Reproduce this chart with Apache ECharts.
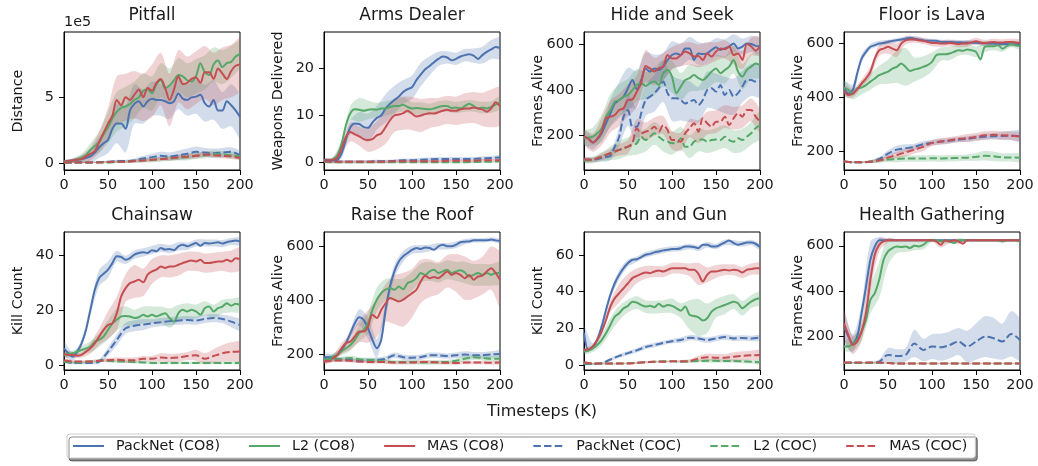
<!DOCTYPE html>
<html>
<head>
<meta charset="utf-8">
<script src="https://cdn.jsdelivr.net/npm/echarts@6/dist/echarts.min.js"></script>
<style>
  html, body { margin: 0; padding: 0; background: #fff; }
  #chart { width: 1038px; height: 466px; }
</style>
</head>
<body>
<div id="chart"></div>
<script>
// Timesteps (K): solid curves are sampled every 5K, dashed curves and all spreads every 10K
const X5 = [0,5,10,15,20,25,30,35,40,45,50,55,60,65,70,75,80,85,90,95,100,105,110,115,120,125,130,135,140,145,150,155,160,165,170,175,180,185,190,195,200];
const X10 = [0,10,20,30,40,50,60,70,80,90,100,110,120,130,140,150,160,170,180,190,200];

const METHODS = ['PackNet (CO8)', 'L2 (CO8)', 'MAS (CO8)', 'PackNet (COC)', 'L2 (COC)', 'MAS (COC)'];
const TITLES = ['Pitfall', 'Arms Dealer', 'Hide and Seek', 'Floor is Lava', 'Chainsaw', 'Raise the Roof', 'Run and Gun', 'Health Gathering'];
const YLABELS = ['Distance', 'Weapons Delivered', 'Frames Alive', 'Frames Alive', 'Kill Count', 'Frames Alive', 'Kill Count', 'Frames Alive'];
const YTICKS = [[0, 5], [0, 10, 20], [200, 400, 600], [200, 400, 600], [0, 20, 40], [200, 400, 600], [0, 20, 40, 60], [200, 400, 600]];

// Mean curves, order follows METHODS. Pitfall distance is in units of 1e5.
const pitfallMean = [
  [0.1,0.15,0.2,0.25,0.3,0.4,0.5,0.8,1.2,1.5,1.75,2.6,3.0,3.0,2.6,4.0,4.5,4.7,4.3,4.7,4.9,4.8,4.8,4.7,4.55,4.7,5.3,4.9,4.8,5.0,5.05,5.2,4.55,4.3,4.8,4.0,4.0,4.7,4.4,4.0,3.5],
  [0.1,0.15,0.2,0.3,0.4,0.6,1.0,1.3,1.6,2.2,2.7,3.4,3.9,4.2,4.3,4.5,4.8,5.0,5.5,5.6,5.3,6.0,6.3,5.7,5.9,6.3,6.7,6.6,6.3,6.2,6.6,7.6,6.9,6.7,7.5,7.8,7.3,7.6,7.7,8.1,8.3],
  [0.1,0.15,0.2,0.25,0.3,0.5,0.7,0.9,1.6,2.3,3.0,3.6,4.8,4.4,5.0,4.8,5.2,5.6,5.0,5.7,5.5,6.1,6.4,5.7,4.8,5.6,6.6,6.0,6.1,6.4,6.5,6.1,6.9,6.9,6.4,7.2,6.8,6.4,7.0,7.4,7.5],
  [0.05,0.05,0.05,0.05,0.08,0.1,0.15,0.15,0.2,0.35,0.45,0.55,0.5,0.6,0.7,0.85,0.8,0.75,0.8,0.85,0.6],
  [0.05,0.05,0.05,0.05,0.05,0.05,0.08,0.1,0.15,0.2,0.25,0.3,0.35,0.4,0.45,0.55,0.6,0.7,0.65,0.6,0.5],
  [0.05,0.05,0.05,0.05,0.05,0.08,0.1,0.1,0.15,0.2,0.25,0.3,0.35,0.45,0.5,0.55,0.65,0.6,0.55,0.5,0.4]
];
const pitfallSpread = [
  [0.1,0.15,0.3,0.5,0.8,1.0,1.5,1.8,1.5,1.3,1.3,1.2,1.2,1.2,1.2,1.3,1.4,1.5,1.4,1.6,1.6],
  [0.1,0.15,0.3,0.5,0.8,1.2,1.5,1.5,1.4,1.3,1.3,1.3,1.3,1.3,1.3,1.3,1.3,1.3,1.3,1.2,1.0],
  [0.1,0.15,0.3,0.5,0.8,1.2,1.8,1.8,1.8,1.8,2.0,2.0,2.0,2.0,2.0,2.0,2.0,2.0,2.0,2.0,2.0],
  [0.05,0.05,0.05,0.05,0.05,0.08,0.1,0.1,0.15,0.2,0.25,0.3,0.3,0.35,0.4,0.4,0.35,0.35,0.35,0.35,0.3],
  [0.05,0.05,0.05,0.05,0.05,0.08,0.1,0.1,0.12,0.15,0.2,0.2,0.2,0.2,0.25,0.25,0.25,0.25,0.25,0.25,0.2],
  [0.05,0.05,0.05,0.05,0.05,0.08,0.1,0.1,0.12,0.15,0.15,0.15,0.15,0.2,0.2,0.2,0.2,0.2,0.2,0.2,0.15]
];

const armsMean = [
  [0.5,0.5,0.5,0.6,2.0,5.0,7.5,8.3,8.2,7.6,7.4,8.5,9.5,10.0,11.5,12.5,13.3,14.0,15.0,15.6,16.0,17.5,18.7,19.8,20.5,21.3,22.0,22.5,22.3,21.7,22.0,22.5,22.8,23.0,22.7,22.0,22.8,23.5,24.0,24.5,24.3],
  [0.5,0.5,0.7,1.5,4.0,8.0,10.5,11.3,11.2,11.0,11.2,11.3,11.2,11.5,11.5,11.8,12.0,12.0,12.3,11.8,11.5,11.6,11.5,11.4,11.3,11.5,11.8,12.0,12.0,11.6,11.7,11.5,12.0,12.5,12.0,11.5,11.7,11.5,11.8,12.3,12.7],
  [0.5,0.5,0.6,1.0,3.0,5.5,6.5,6.0,5.6,5.0,4.8,5.0,5.8,6.2,7.5,9.0,10.0,10.2,10.5,11.0,10.4,9.8,10.0,10.3,10.5,10.4,10.7,11.0,11.2,11.0,11.0,11.3,11.5,11.5,11.7,11.5,11.3,10.8,11.5,12.8,12.0],
  [0.4,0.3,0.2,0.2,0.2,0.2,0.3,0.3,0.4,0.5,0.5,0.6,0.7,0.8,0.8,0.8,0.8,0.8,0.9,1.0,1.1],
  [0.2,0.1,0.1,0.1,0.1,0.1,0.1,0.1,0.1,0.1,0.1,0.1,0.1,0.1,0.1,0.1,0.1,0.15,0.2,0.2,0.3],
  [0.3,0.2,0.2,0.2,0.2,0.2,0.2,0.2,0.3,0.3,0.3,0.3,0.3,0.3,0.4,0.4,0.4,0.4,0.5,0.5,0.5]
];
const armsSpread = [
  [0.5,0.5,1.0,1.5,2.5,3.0,2.5,3.0,3.0,2.5,2.5,2.5,2.0,1.5,1.3,1.3,1.3,1.5,1.8,2.0,2.2],
  [0.3,0.5,1.0,1.5,2.5,2.0,1.5,1.5,1.5,1.5,1.3,1.3,1.2,1.2,1.2,1.2,1.2,1.2,1.2,1.2,1.3],
  [0.3,0.5,1.0,2.0,2.0,2.5,3.0,3.5,3.5,3.5,3.5,3.5,3.2,3.0,3.0,3.0,3.2,3.3,3.5,4.0,4.0],
  [0.4,0.3,0.3,0.3,0.3,0.3,0.3,0.3,0.3,0.4,0.4,0.4,0.4,0.4,0.4,0.4,0.4,0.4,0.4,0.4,0.5],
  [0.2,0.2,0.2,0.2,0.2,0.2,0.2,0.2,0.2,0.2,0.2,0.2,0.2,0.2,0.2,0.2,0.2,0.2,0.2,0.2,0.2],
  [0.3,0.3,0.3,0.3,0.3,0.3,0.3,0.3,0.3,0.3,0.3,0.3,0.3,0.3,0.3,0.3,0.3,0.3,0.3,0.3,0.3]
];

const hideMean = [
  [194,185,168,182,209,253,297,340,355,370,407,443,402,443,494,480,494,487,502,531,553,560,553,582,582,531,560,557,560,575,587,575,582,590,604,582,590,604,601,593,590],
  [187,190,194,209,230,282,311,348,355,370,377,399,421,429,417,429,436,421,473,487,458,385,414,443,451,465,451,443,458,480,494,473,487,502,531,480,458,487,502,516,509],
  [194,185,168,185,216,275,282,289,311,319,355,358,392,429,505,494,480,494,502,553,538,538,553,568,560,546,549,531,560,546,568,582,578,590,553,560,531,601,590,572,590],
  [92,92,92,96,100,105,110,150,194,282,311,238,238,297,355,370,385,407,436,385,363,363,355,340,348,355,333,355,399,407,392,421,377,399,370,385,414,443,443,436,436],
  [89,90,92,99,106,114,121,128,136,143,150,157,165,194,179,194,209,194,179,172,165,165,187,150,150,172,179,182,172,179,182,179,194,179,172,187,179,194,209,231,245],
  [94,93,92,99,106,114,121,128,136,143,150,165,231,209,216,223,238,216,245,223,179,179,172,209,231,253,216,275,253,238,260,260,282,245,275,297,282,311,311,282,260]
];
const hideSpread = [
  [30,30,30,60,80,90,80,70,60,60,60,50,50,50,45,40,40,40,35,35,35],
  [30,40,60,70,70,70,70,60,60,60,70,60,60,55,55,60,60,60,55,55,55],
  [30,40,60,70,70,70,70,70,60,60,50,50,50,50,50,40,40,40,40,40,40],
  [10,10,15,20,40,70,80,70,80,90,100,90,90,80,80,80,80,80,70,70,70],
  [10,15,20,30,40,40,50,50,50,50,50,50,50,50,50,50,50,50,50,50,60],
  [10,10,15,20,25,30,40,40,40,40,40,40,40,50,50,50,50,50,50,50,50]
];

const lavaMean = [
  [436,414,427,489,544,569,588,594,600,602,606,610,612,615,618,622,618,615,612,610,610,610,606,606,606,605,605,604,604,603,603,602,601,600,600,599,598,598,597,597,597],
  [436,427,412,433,436,445,458,470,482,489,495,507,513,526,513,498,503,507,513,520,532,557,560,560,563,569,575,573,578,575,569,541,588,590,590,594,581,590,598,594,590],
  [424,408,414,429,451,470,495,544,575,581,588,581,575,600,612,615,615,612,610,606,602,602,600,600,602,600,598,600,600,604,609,604,602,604,606,604,604,606,606,604,602],
  [160,158,158,160,170,190,205,210,215,225,230,235,238,242,245,250,253,255,256,257,255],
  [160,158,158,160,165,168,170,172,172,172,173,172,173,174,175,178,182,180,176,176,175],
  [162,158,158,160,165,175,185,195,205,215,230,235,240,245,248,252,258,260,258,257,253]
];
const lavaSpread = [
  [25,20,15,10,10,8,8,8,8,8,8,8,8,8,8,8,8,8,8,8,8],
  [25,20,25,30,35,45,60,70,45,40,35,25,25,20,20,20,20,15,12,12,12],
  [20,15,15,20,20,25,25,15,12,12,12,12,12,12,12,12,12,12,12,12,12],
  [3,3,3,5,8,12,15,15,12,12,10,10,10,10,10,10,12,12,15,18,20],
  [3,3,3,5,8,10,12,12,12,12,12,12,12,12,12,15,18,18,15,15,15],
  [3,3,3,5,8,10,12,15,15,15,12,12,12,12,15,15,15,15,15,15,15]
];

const chainsawMean = [
  [6.3,4.5,3.3,5.1,8.1,13,20.3,27.6,31.9,33.4,34.9,37.3,39.8,39.5,38.5,39.1,40.4,41,41.2,41,42,41.6,42.8,42.2,42.4,42,43.4,44,43.4,44,44.6,43.6,44.6,44.4,44.6,44.9,44.4,44.9,45.2,45.5,45.2],
  [3.9,4.3,4.5,5.1,5.7,6.3,6.9,8.8,9.4,10.6,13,15.4,16.7,17.9,18.1,17.9,17.3,17.6,18.5,17.9,18.5,17.9,18.5,19.1,17.3,16,19.1,20.3,19.7,20.3,19.7,18.5,20.9,21.5,19.7,20.9,21.5,22.7,21.8,22.5,22.1],
  [4.3,3.9,3.9,3.6,3.9,5.1,6.3,8.1,10.6,13,14.8,15.4,19.1,25.2,28.2,30,30.6,31.2,30.3,33.1,34.3,34.9,36.1,35.5,36.1,36.1,36.7,37.3,37.9,38.2,37.9,38.5,37.3,37.3,37.6,37.9,37.9,38.5,37.9,39.1,38.8],
  [1.5,1.0,1.0,1.0,1.5,5.1,9.4,13.6,14.5,15,15.4,15.8,16.2,16.4,16.6,16.4,17,17.3,17,16,14.8],
  [1.5,1.2,1.2,1.5,1.8,1.8,1.5,1.5,1.3,1.2,1.0,1.0,1.0,1.0,1.0,1.0,1.0,1.0,1.0,1.0,1.0],
  [2.0,1.5,1.5,1.5,1.8,2.0,2.2,2.0,2.0,2.5,2.5,3.0,2.8,3.0,3.5,3.8,2.5,3.5,4.5,5.0,5.2]
];
const chainsawSpread = [
  [2.5,1.5,1.5,2,3,3,2,1.5,1.5,1.5,1.5,1.5,1.5,1.5,1.3,1.3,1.3,1.3,1.3,1.3,1.3],
  [1,1,1.5,2,2.5,3.5,4,3.5,3,3,3,3,3.5,3,3,2.5,2.5,2.5,2.5,2.5,2.5],
  [1,1,1,2,3,5,6,5,6,5,4.5,4,4,4,3.5,3.5,3.5,3.5,3.5,4,4],
  [0.5,0.5,0.5,0.5,0.8,1.5,2,2,2,2,1.5,1.5,1.5,1.5,1.5,1.5,1.5,1.5,1.5,2,2],
  [0.5,0.5,0.5,0.5,0.5,0.5,0.5,0.5,0.5,0.5,0.5,0.5,0.5,0.5,0.5,0.5,0.5,0.5,0.5,0.5,0.5],
  [0.5,0.5,0.5,0.5,0.5,0.8,0.8,1,1,1,1,1.5,1.5,1.5,1.5,2,2,2.5,3,3.5,3.5]
];

const roofMean = [
  [188,188,190,196,215,240,277,314,336,326,295,252,221,252,363,450,506,543,562,574,586,593,589,595,593,586,599,605,599,599,605,614,616,617,621,621,621,621,624,621,619],
  [178,182,190,196,209,221,233,252,277,289,314,363,401,425,438,444,438,450,440,463,469,481,500,493,506,512,500,506,512,500,506,510,502,487,493,500,493,500,493,500,500],
  [172,178,184,196,221,240,246,264,283,283,302,345,333,363,388,407,401,394,401,413,425,438,469,490,481,485,481,493,506,493,500,493,481,493,475,487,490,506,518,500,475],
  [185,182,180,178,175,178,178,182,195,188,186,188,195,195,192,195,198,195,195,198,200],
  [180,180,182,185,180,178,176,172,170,170,170,168,168,170,170,175,182,188,185,182,182],
  [172,175,176,175,172,170,170,170,168,168,168,170,170,168,167,166,168,168,168,167,168]
];
const roofSpread = [
  [12,10,10,15,30,40,35,30,25,20,15,15,12,12,12,12,10,8,8,8,8],
  [10,10,15,20,30,40,45,40,40,40,35,35,35,35,35,35,40,40,40,40,40],
  [10,12,20,30,40,60,70,70,90,100,90,80,70,60,60,70,80,70,70,80,100],
  [8,8,8,8,8,8,8,10,10,10,10,10,10,10,10,10,12,12,12,12,12],
  [8,8,8,8,8,8,8,8,8,8,8,8,8,8,8,8,10,10,10,10,10],
  [6,6,6,6,6,6,6,6,6,6,6,6,6,6,6,6,6,6,6,6,6]
];

const runGunMean = [
  [17.3,8.2,10,13.6,20.9,30,38.2,44.5,49.1,52.7,55.5,57.3,57.6,58.7,60,60.5,61.3,61.8,62.4,62.7,63.1,63.1,63.6,64.5,64.5,64.2,63.6,65.5,65.5,64.5,64.5,65.5,66.7,67.8,66.4,65.5,66,66.7,66.7,66,64.2],
  [7.3,7.8,9.1,10.9,13.6,17.3,21.8,26.4,28.2,30.9,32.2,34.5,34,32.7,31.8,32.2,31.5,33.3,31.8,32.7,32.2,30.9,29.6,31.8,27.3,26.7,26,24.2,25.5,29.1,30.9,31.8,32.7,33.6,34.5,33.6,30.9,32.7,34.5,35.8,36.4],
  [8.2,8.5,10,13.6,18.2,24.5,31.8,36.4,39.1,41.8,44.5,47.3,48.5,49.6,50.4,50,50.9,51.5,50.9,51.8,52.7,52.7,52.7,52.7,51.8,51.8,49.6,45.5,49.1,50.9,50.9,51.5,51.8,51.5,51.8,51.5,50.4,51.8,52.2,52.7,52.7],
  [0.5,0.5,1,3,5,6.5,8,9.8,10.9,12,13,13.6,14.9,14.5,13.6,14.5,15.2,14.5,14.7,14.5,14.9],
  [1.0,0.8,0.8,0.8,0.8,1.0,1.2,1.5,1.8,2.0,2.0,1.8,2.0,2.2,2.3,2.3,2.2,2.2,2.0,1.8,1.5],
  [1.5,0.8,0.8,0.8,0.8,0.8,1.2,1.5,1.8,1.8,2.0,2.0,2.2,3.5,4.3,4.0,4.0,4.5,5.0,5.3,5.5]
];
const runGunSpread = [
  [4,2,2,2,2.5,2,1.5,1.5,1.5,1.5,1.5,1.5,1.5,1.5,1.5,1.5,1.5,1.5,1.5,1.5,1.5],
  [1.5,2,3,4,4,3.5,3.5,3.5,3.5,3.5,4,4,8,10,8,5,5,4,4,3.5,3.5],
  [1,1,2,3,5,5,4,3.5,3,3,3,3,3.5,6,4,3.5,3,3,3,3,3],
  [0.5,0.5,0.5,0.8,1,1.2,1.2,1.2,1.2,1.2,1.2,1.5,1.5,1.5,1.5,1.5,1.5,1.5,1.5,1.5,1.5],
  [0.5,0.5,0.5,0.5,0.5,0.5,0.5,0.5,0.5,0.5,0.5,0.5,0.5,0.8,1,1,1,1,1,1,1],
  [0.5,0.5,0.5,0.5,0.5,0.5,0.5,0.5,0.5,0.5,0.5,0.8,1,1.5,2,2,2,2.5,2.5,2.5,2.5]
];

const healthMean = [
  [241,197,167,197,301,419,538,597,624,624,624,624,624,624,624,624,624,624,624,624,624,624,624,624,624,624,622,624,624,624,624,624,624,624,624,624,624,624,624,624,624],
  [153,153,164,182,219,271,360,390,449,538,575,590,597,594,597,590,600,597,604,619,624,624,619,624,619,612,624,624,624,624,624,624,624,624,624,624,619,624,624,624,619],
  [256,204,160,175,219,301,449,560,604,619,624,624,624,624,624,624,624,624,624,624,624,619,604,624,619,624,619,609,624,624,624,624,624,624,624,624,624,624,624,624,624],
  [81,81,81,81,86,116,111,116,167,138,153,150,160,175,153,175,197,190,175,209,182],
  [80,80,80,80,80,80,78,78,78,78,78,78,78,78,78,78,78,78,78,78,78],
  [82,82,82,82,82,80,78,78,78,78,78,78,78,78,78,78,78,78,78,78,78]
];
const healthSpread = [
  [60,40,40,80,15,5,5,5,5,5,5,5,5,5,5,5,5,5,5,5,5],
  [20,30,40,60,80,60,30,25,20,20,8,8,8,8,5,5,5,5,5,5,5],
  [60,40,40,50,30,10,5,5,5,5,5,12,8,12,5,5,5,5,5,5,5],
  [3,3,3,5,10,30,30,30,60,50,55,60,60,60,70,80,90,90,80,100,90],
  [3,3,3,3,3,3,3,3,3,3,3,3,3,3,3,3,3,3,3,3,3],
  [3,3,3,3,3,3,3,3,3,3,3,3,3,3,3,3,3,3,3,3,3]
];

const PANEL_MEANS = [pitfallMean, armsMean, hideMean, lavaMean, chainsawMean, roofMean, runGunMean, healthMean];
const PANEL_SPREADS = [pitfallSpread, armsSpread, hideSpread, lavaSpread, chainsawSpread, roofSpread, runGunSpread, healthSpread];

// ---- styling / layout ----
const FONT = 'DejaVu Sans';
const TEXT = '#1a1a1a';
const TICK_SIZE = 14.4;
const LINE_COLORS = ['#4C72B0', '#55A868', '#C44E52', '#4C72B0', '#55A868', '#C44E52'];
const BAND_COLORS = ['rgba(76,114,176,0.25)', 'rgba(85,168,104,0.25)', 'rgba(196,78,82,0.25)',
                     'rgba(76,114,176,0.25)', 'rgba(85,168,104,0.25)', 'rgba(196,78,82,0.25)'];
const DASH = [7.5, 3.2];
const COL_LEFT = [64, 324, 584, 844];
const ROW_TOP = [32, 232];
const PLOT_W = 176, PLOT_H = 138;
const Y_RANGE = [[-0.53, 9.97], [-1.55, 27.7], [47.5, 654], [129, 643], [-1.57, 48.6], [140.5, 652], [-2.7, 72.4], [49, 661]];

const chart = echarts.init(document.getElementById('chart'), null, { renderer: 'canvas' });

const grids = [], xAxes = [], yAxes = [], series = [], graphics = [];

function bandRenderer(lo, hi, fill) {
  return function (params, api) {
    if (params.dataIndexInside !== 0) return null;
    const upper = [], lower = [];
    for (let k = 0; k < X10.length; k++) {
      upper.push(api.coord([X10[k], hi[k]]));
      lower.push(api.coord([X10[k], lo[k]]));
    }
    const cs = params.coordSys;
    return {
      type: 'polygon',
      shape: { points: upper.concat(lower.reverse()), smooth: 0.3 },
      style: { fill: fill },
      clipPath: { type: 'rect', shape: { x: cs.x, y: cs.y, width: cs.width, height: cs.height } }
    };
  };
}

for (let p = 0; p < 8; p++) {
  const row = Math.floor(p / 4), col = p % 4;
  const left = COL_LEFT[col], top = ROW_TOP[row];
  grids.push({
    left: left, top: top, width: PLOT_W, height: PLOT_H,
    show: true, borderColor: '#000', borderWidth: 1, backgroundColor: 'transparent',
    containLabel: false, outerBoundsMode: 'none'
  });
  xAxes.push({
    gridIndex: p, type: 'value', min: 0, max: 200, interval: 50,
    axisLine: { show: true, onZero: false, lineStyle: { color: '#000', width: 1 } },
    axisTick: { show: true, length: 5, lineStyle: { color: '#000', width: 1 } },
    axisLabel: { show: true, fontSize: TICK_SIZE, fontFamily: FONT, color: TEXT, margin: 8, showMinLabel: true, showMaxLabel: true },
    splitLine: { show: false }
  });
  yAxes.push({
    gridIndex: p, type: 'value', min: Y_RANGE[p][0], max: Y_RANGE[p][1],
    axisLine: { show: true, onZero: false, lineStyle: { color: '#000', width: 1 } },
    axisTick: { show: true, length: 5, customValues: YTICKS[p], lineStyle: { color: '#000', width: 1 } },
    axisLabel: { show: true, fontSize: TICK_SIZE, fontFamily: FONT, color: TEXT, margin: 10, customValues: YTICKS[p] },
    splitLine: { show: false }
  });

  const means = PANEL_MEANS[p], spreads = PANEL_SPREADS[p];
  for (let s = 0; s < 6; s++) {
    const m = means[s], sp = spreads[s];
    const step = m.length === X5.length ? 2 : 1;
    const lo = X10.map((x, k) => m[k * step] - sp[k]);
    const hi = X10.map((x, k) => m[k * step] + sp[k]);
    series.push({
      type: 'custom', xAxisIndex: p, yAxisIndex: p, silent: true, z: 2,
      data: X10.map((x, k) => [x, lo[k], hi[k]]),
      encode: { x: 0, y: [1, 2] },
      renderItem: bandRenderer(lo, hi, BAND_COLORS[s])
    });
  }
  for (let s = 0; s < 6; s++) {
    const m = means[s];
    const xs = m.length === X5.length ? X5 : X10;
    series.push({
      type: 'line', name: METHODS[s], xAxisIndex: p, yAxisIndex: p,
      data: xs.map((x, i) => [x, m[i]]),
      symbol: 'none', showSymbol: false, smooth: 0.3, silent: true, z: 3 + s,
      clip: true,
      lineStyle: { color: LINE_COLORS[s], width: 2, type: s >= 3 ? DASH : 'solid' },
      itemStyle: { color: LINE_COLORS[s] },
      emphasis: { disabled: true }
    });
  }

  // subplot title and y-axis label
  graphics.push({
    type: 'text', x: left + PLOT_W / 2, y: top - 16,
    style: { text: TITLES[p], font: '17px "' + FONT + '"', fill: TEXT, textAlign: 'center', textVerticalAlign: 'middle' }
  });
  graphics.push({
    type: 'text', x: left - 45.5, y: top + PLOT_H / 2, rotation: Math.PI / 2,
    style: { text: YLABELS[p], font: '14.4px "' + FONT + '"', fill: TEXT, textAlign: 'center', textVerticalAlign: 'middle' }
  });
}

// scale multiplier of the Pitfall axis
graphics.push({
  type: 'text', x: 64, y: 22,
  style: { text: '1e5', font: TICK_SIZE + 'px "' + FONT + '"', fill: TEXT, textAlign: 'left', textVerticalAlign: 'middle' }
});
// shared x-axis label
graphics.push({
  type: 'text', x: 542, y: 412,
  style: { text: 'Timesteps (K)', font: '16px "' + FONT + '"', fill: TEXT, textAlign: 'center', textVerticalAlign: 'middle' }
});

chart.setOption({
  animation: false,
  backgroundColor: '#fff',
  grid: grids,
  xAxis: xAxes,
  yAxis: yAxes,
  series: series,
  graphic: { elements: graphics },
  legend: {
    data: METHODS,
    orient: 'horizontal',
    left: 67, top: 434,
    itemWidth: 31, itemHeight: 10, itemGap: 28,
    padding: [5, 8, 5, 5],
    backgroundColor: '#fff',
    borderColor: '#cccccc', borderWidth: 1, borderRadius: 3,
    shadowColor: 'rgba(0,0,0,0.45)', shadowBlur: 0, shadowOffsetX: 2, shadowOffsetY: 3,
    selectedMode: false,
    itemStyle: { opacity: 0 },
    textStyle: { fontSize: 14.3, fontFamily: FONT, color: TEXT, padding: [0, 0, 0, 7] }
  }
});
</script>
</body>
</html>
